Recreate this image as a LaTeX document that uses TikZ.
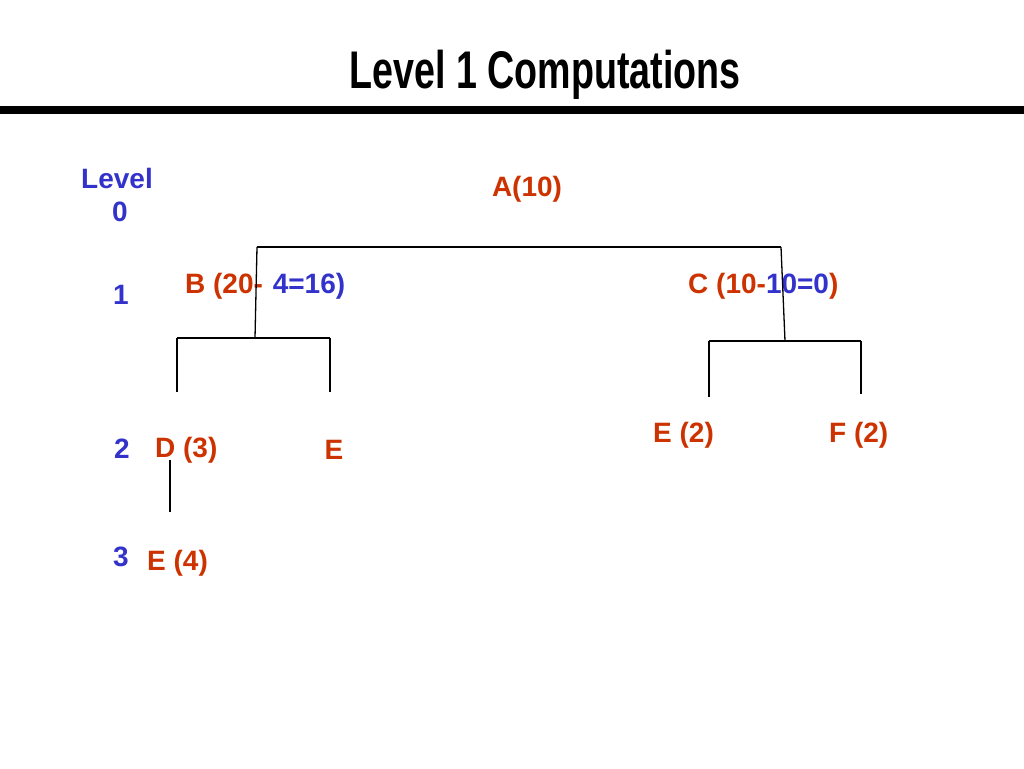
\documentclass[tikz,border=0pt]{standalone}
\usepackage{fontspec}
\setmainfont{Liberation Sans}
\usepackage{graphicx}
\definecolor{rd}{HTML}{CC3300}
\definecolor{bl}{HTML}{3333CC}
\begin{document}
\begin{tikzpicture}[x=1pt,y=-1pt,
  lbl/.style={font=\fontsize{28}{30}\selectfont\bfseries, inner sep=0pt, anchor=base west},
  lvl/.style={font=\fontsize{28}{30}\selectfont\bfseries, inner sep=0pt, anchor=base, text=bl},
  tree/.style={line width=1.3pt, black}]
\useasboundingbox (0,0) rectangle (1024,768);
% title
\node[inner sep=0pt, anchor=base] (title) at (545,88) {\scalebox{0.71}[1]{\fontsize{53}{53}\selectfont\bfseries Level 1 Computations}};
\coordinate (barL) at (0,110);
\coordinate (barR) at (1024,110);
\draw[line width=8pt] (barL) -- (barR);
% level labels
\node[lvl] (lv) at (117,188) {Level};
\node[lvl] (l0) at (120,221) {0};
\node[lvl] (l1) at (121,304) {1};
\node[lvl] (l2) at (122,458) {2};
\node[lvl] (l3) at (121,566) {3};
% nodes
\node[lbl, anchor=base, text=rd] (A) at (527,196) {A(10)};
\node[lbl] (B) at (185,293) {\textcolor{rd}{B (20-}\hspace{0.35em}\textcolor{bl}{4=16)}};
\node[lbl] (C) at (688,293) {\textcolor{rd}{C (10-}\textcolor{bl}{10=0}\textcolor{rd}{)}};
\node[lbl, text=rd] (D) at (155,457) {D (3)};
\node[lbl, anchor=base, text=rd] (E1) at (334,459) {E};
\node[lbl, text=rd] (E2) at (653,442) {E (2)};
\node[lbl, text=rd] (F) at (829,442) {F (2)};
\node[lbl, text=rd] (E4) at (147,570) {E (4)};
% tree junctions
\coordinate (aL) at (257,247);
\coordinate (aR) at (781,247);
\coordinate (bJ) at (255,338);
\coordinate (bL) at (177,338);
\coordinate (bR) at (330,338);
\coordinate (bLd) at (177,392);
\coordinate (bRd) at (330,392);
\coordinate (cJ) at (785,341);
\coordinate (cL) at (709,341);
\coordinate (cR) at (861,341);
\coordinate (cLd) at (709,397);
\coordinate (cRd) at (861,394);
\coordinate (dT) at (170,460);
\coordinate (dB) at (170,512);
\draw[tree] (aL) -- (aR);
\draw[tree] (aL) -- (bJ);
\draw[tree] (aR) -- (cJ);
\draw[tree] (bL) -- (bR);
\draw[tree] (bL) -- (bLd);
\draw[tree] (bR) -- (bRd);
\draw[tree] (cL) -- (cR);
\draw[tree] (cL) -- (cLd);
\draw[tree] (cR) -- (cRd);
\draw[tree] (dT) -- (dB);
\end{tikzpicture}
\end{document}
